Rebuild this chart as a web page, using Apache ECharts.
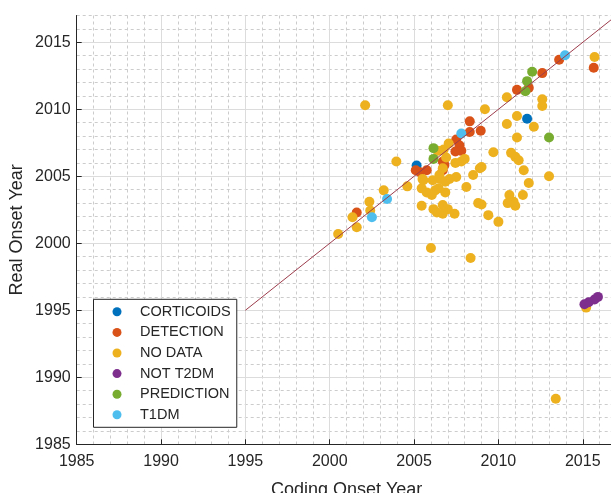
<!DOCTYPE html>
<html>
<head>
<meta charset="utf-8">
<script src="https://cdn.jsdelivr.net/npm/echarts@6.0.0/dist/echarts.min.js"></script>
<style>
  html, body { margin: 0; padding: 0; background: #ffffff; }
  #chart { width: 611px; height: 493px; }
</style>
</head>
<body>
<div id="chart"></div>
<script>
// ---- Data ----
const groupNames = ['CORTICOIDS', 'DETECTION', 'NO DATA', 'NOT T2DM', 'PREDICTION', 'T1DM'];
const groupColors = ['#0072BD', '#D95319', '#EDB120', '#7E2F8E', '#77AC30', '#4DBEEE'];

const corticoids = [[2005.15, 2005.8], [2011.7, 2009.3]];

const detection = [
  [2001.6, 2002.3],
  [2005.1, 2005.45], [2005.75, 2005.45], [2005.35, 2005.3],
  [2006.7, 2006.1], [2006.8, 2005.85], [2006.7, 2005.45],
  [2007.5, 2007.75], [2007.7, 2007.3], [2007.45, 2006.85], [2007.8, 2006.9],
  [2008.3, 2009.1], [2008.3, 2008.3], [2008.95, 2008.4],
  [2011.1, 2011.45], [2011.8, 2011.6], [2012.6, 2012.7], [2013.6, 2013.7],
  [2015.65, 2013.1]
];

const noData = [
  [2000.5, 2000.7],
  [2001.35, 2001.95], [2001.6, 2001.2],
  [2002.35, 2003.1], [2002.4, 2002.45],
  [2002.1, 2010.3],
  [2003.2, 2003.95],
  [2003.95, 2006.1],
  [2004.6, 2004.25],
  [2005.55, 2004.7], [2005.45, 2004.1], [2005.75, 2003.8], [2006.05, 2003.6], [2006.25, 2003.95],
  [2006.1, 2004.7], [2005.5, 2004.8],
  [2006.55, 2004.8], [2006.85, 2004.6], [2007.1, 2004.8], [2007.5, 2004.95],
  [2006.45, 2004.1], [2006.85, 2003.8],
  [2006.7, 2005.6], [2006.5, 2005.1],
  [2007.8, 2006.1], [2008.0, 2006.3], [2008.5, 2005.1], [2008.9, 2005.6], [2008.1, 2004.2],
  [2008.8, 2003.0], [2009.4, 2002.1],
  [2005.45, 2002.8], [2006.15, 2002.55], [2006.35, 2002.3], [2006.7, 2002.85], [2006.7, 2002.2],
  [2007.0, 2002.55], [2007.4, 2002.2],
  [2007.45, 2006.0],
  [2006.4, 2006.9], [2006.75, 2007.0], [2006.9, 2006.4],
  [2007.05, 2007.45],
  [2007.0, 2010.3],
  [2009.2, 2010.0],
  [2010.5, 2010.9],
  [2012.6, 2010.75], [2012.6, 2010.25],
  [2011.1, 2009.5],
  [2010.5, 2008.9],
  [2012.1, 2008.7],
  [2011.1, 2007.9],
  [2009.7, 2006.8],
  [2010.75, 2006.75], [2011.0, 2006.45], [2011.2, 2006.2],
  [2009.0, 2005.7],
  [2011.5, 2005.45],
  [2011.8, 2004.5],
  [2013.0, 2005.0],
  [2011.45, 2003.6],
  [2010.65, 2003.6], [2010.55, 2003.0], [2010.9, 2003.1], [2011.0, 2002.8],
  [2009.0, 2002.9],
  [2010.0, 2001.6],
  [2006.0, 1999.65], [2008.35, 1998.9],
  [2013.4, 1988.4],
  [2015.7, 2013.9],
  [2015.2, 1995.2]
];

const notT2dm = [[2015.1, 1995.45], [2015.35, 1995.6], [2015.7, 1995.8], [2015.9, 1996.0]];

const prediction = [
  [2006.15, 2007.1], [2006.15, 2006.3],
  [2012.0, 2012.8], [2011.7, 2012.1], [2011.6, 2011.35],
  [2013.0, 2007.9]
];

const t1dm = [[2002.5, 2001.95], [2003.4, 2003.3], [2007.8, 2008.2], [2013.95, 2014.03]];

const identityLine = [[1995, 1995], [2017, 2017]];

const axisMin = 1985;
const axisMax = 2017;
const majorStep = 5;
const minorStep = 1;
const xTitle = 'Coding Onset Year';
const yTitle = 'Real Onset Year';

// ---- Chart ----
const groups = [corticoids, detection, noData, notT2dm, prediction, t1dm];
const FONT = '"Liberation Sans", Arial, Helvetica, sans-serif';
const TXT = '#262626';

function majorAxis(isX) {
  return {
    type: 'value',
    min: axisMin, max: axisMax, interval: majorStep,
    position: isX ? 'bottom' : 'left',
    z: 1,
    name: isX ? xTitle : yTitle,
    nameLocation: 'middle',
    nameGap: isX ? 37 : 51,
    nameMoveOverlap: false,
    nameTextStyle: { fontFamily: FONT, fontSize: 18, color: TXT },
    axisLine: { show: true, onZero: false, lineStyle: { color: TXT, width: 1 } },
    axisTick: { show: true, inside: true, length: 5, lineStyle: { color: TXT } },
    axisLabel: {
      show: true, fontFamily: FONT, fontSize: 16, color: TXT,
      margin: isX ? 9 : 6, showMaxLabel: false, showMinLabel: true,
      formatter: (v) => String(v)
    },
    splitLine: { show: true, showMaxLine: false, lineStyle: { color: '#dcdcdc', width: 1, type: 'solid' } }
  };
}
function minorAxis(isX) {
  return {
    type: 'value',
    min: axisMin, max: axisMax, interval: minorStep,
    position: isX ? 'bottom' : 'left',
    z: 0,
    axisLine: { show: false, onZero: false },
    axisTick: { show: false },
    axisLabel: { show: false },
    splitLine: { show: true, lineStyle: { color: '#cccccc', width: 1, type: [3, 3] } }
  };
}

const series = groupNames.map((name, i) => ({
  name: name,
  type: 'scatter',
  xAxisIndex: 0, yAxisIndex: 0,
  data: groups[i],
  symbol: 'circle',
  symbolSize: 10,
  itemStyle: { color: groupColors[i], opacity: 1 },
  z: 2
}));
series.push({
  name: 'identity',
  type: 'line',
  xAxisIndex: 0, yAxisIndex: 0,
  data: identityLine,
  symbol: 'none',
  lineStyle: { color: '#9c3c4c', width: 1 },
  z: 3,
  silent: true
});

const chart = echarts.init(document.getElementById('chart'), null, { renderer: 'canvas' });
chart.setOption({
  animation: false,
  backgroundColor: '#ffffff',
  textStyle: { fontFamily: FONT },
  grid: {
    left: 76.7, top: 15.5, right: -5.5, bottom: 48.7,
    containLabel: false, outerBoundsMode: 'none'
  },
  xAxis: [majorAxis(true), minorAxis(true)],
  yAxis: [majorAxis(false), minorAxis(false)],
  legend: {
    data: groupNames.map(n => ({ name: n, icon: 'circle' })),
    orient: 'vertical',
    left: 93.5, top: 299.3,
    padding: [5, 6, 5, 19],
    itemGap: 5.6,
    itemWidth: 9, itemHeight: 9,
    backgroundColor: '#ffffff',
    borderColor: TXT, borderWidth: 1, borderRadius: 0,
    selectedMode: false,
    formatter: (n) => '{gap| }' + n,
    textStyle: {
      fontFamily: FONT, fontSize: 14.5, color: TXT, lineHeight: 14,
      rich: { gap: { width: 13.5, fontSize: 14.5, lineHeight: 14 } }
    }
  },
  series: series
});
</script>
</body>
</html>
